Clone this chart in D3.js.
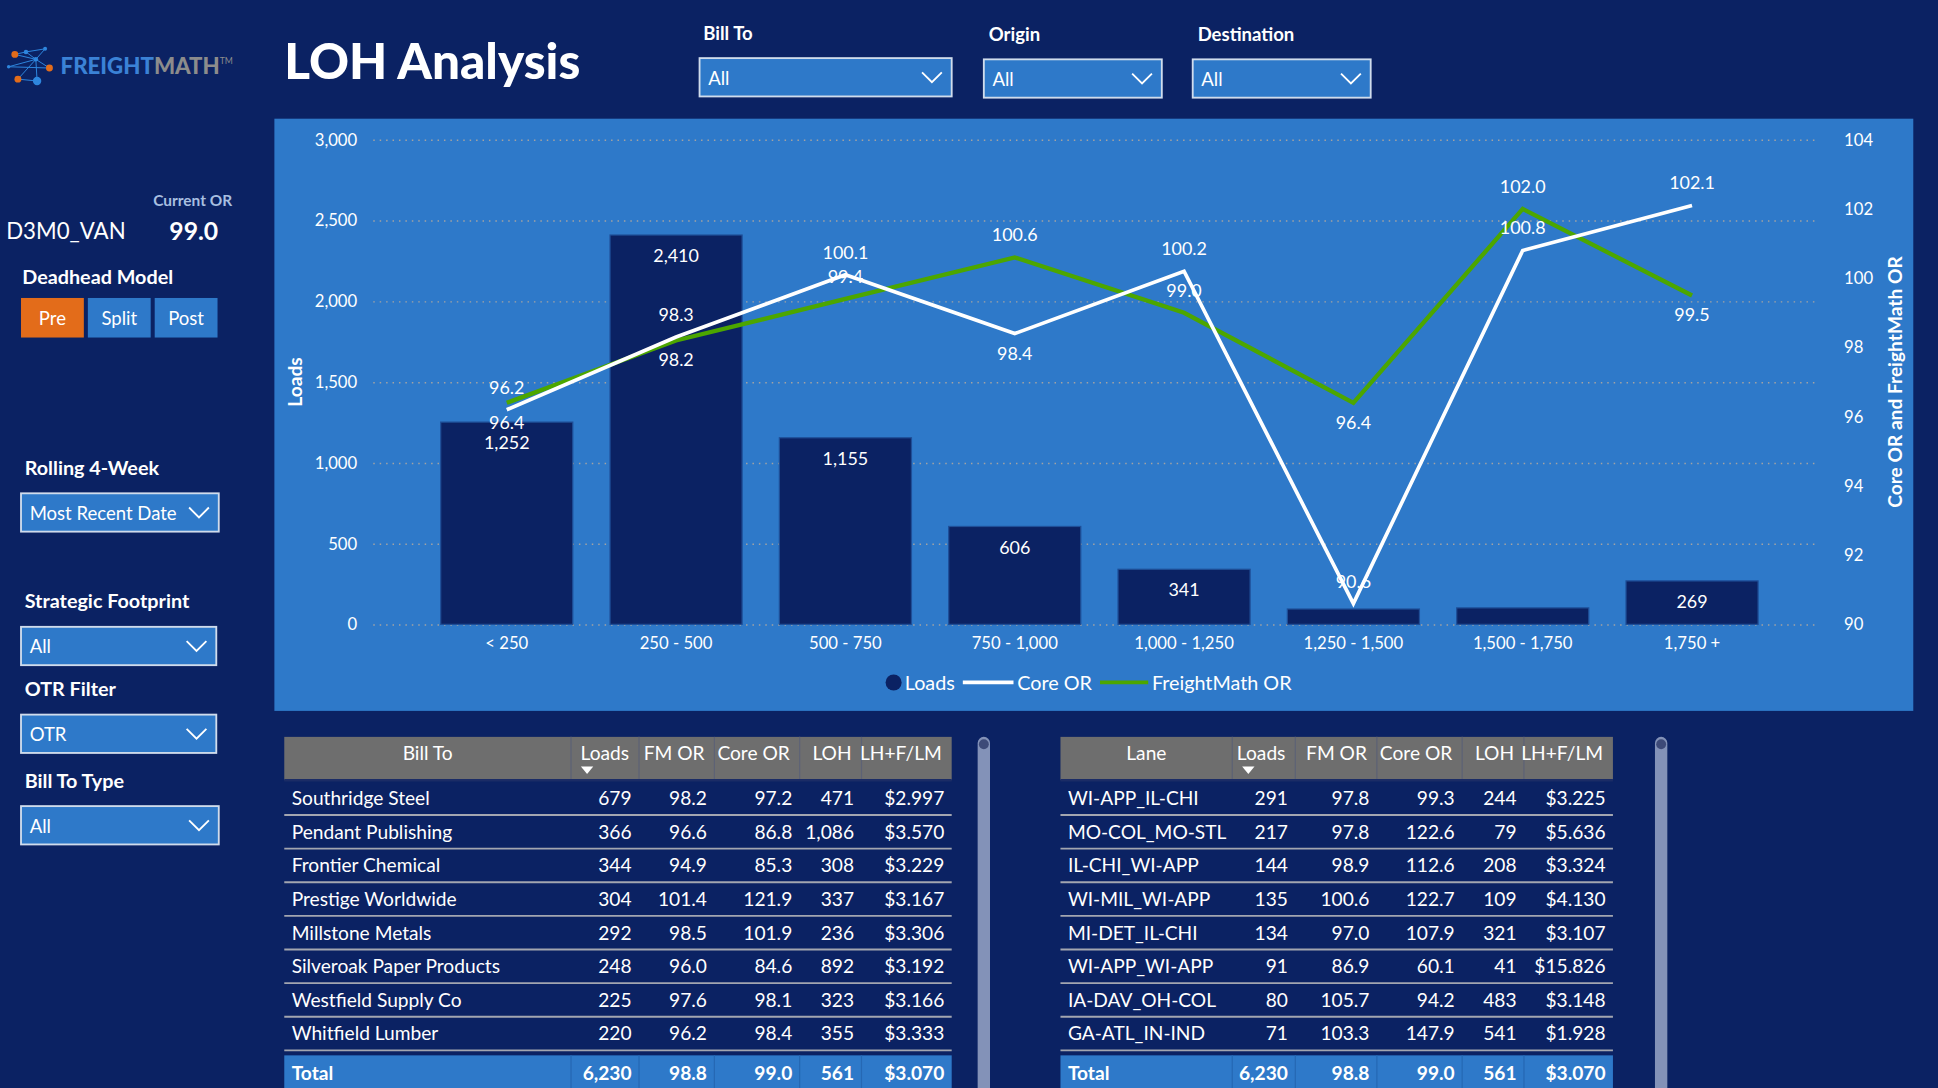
<!DOCTYPE html>
<html>
<head>
<meta charset="utf-8">
<script src="https://cdn.jsdelivr.net/npm/d3@7"></script>
<style>
  html, body { margin: 0; padding: 0; background: #0b2263; overflow: hidden; }
  svg { display: block; font-family: Lato, "Open Sans", sans-serif; }
</style>
</head>
<body>
<div id="page"></div>
<script>
// chart data
const categories = ["< 250", "250 - 500", "500 - 750", "750 - 1,000", "1,000 - 1,250", "1,250 - 1,500", "1,500 - 1,750", "1,750 +"];
const loads = [1252, 2410, 1155, 606, 341, 95, 102, 269];
const coreOR = [96.2, 98.3, 100.1, 98.4, 100.2, 90.6, 100.8, 102.1];
const fmOR = [96.4, 98.2, 99.4, 100.6, 99.0, 96.4, 102.0, 99.5];
const loadTicks = [0, 500, 1000, 1500, 2000, 2500, 3000];
const orTicks = [90, 92, 94, 96, 98, 100, 102, 104];
// where power bi put each line label
const coreLabelSide = ["up", "up", "up", "down", "up", "up", "up", "up"];
const fmLabelSide = ["down", "down", "up", "up", "up", "down", "up", "down"];

// tables
const tableCols = ["Loads", "FM OR", "Core OR", "LOH", "LH+F/LM"];
const billTo = ["Southridge Steel", "Pendant Publishing", "Frontier Chemical", "Prestige Worldwide", "Millstone Metals", "Silveroak Paper Products", "Westfield Supply Co", "Whitfield Lumber"];
const billToRows = [
  ["679", "98.2", "97.2", "471", "$2.997"],
  ["366", "96.6", "86.8", "1,086", "$3.570"],
  ["344", "94.9", "85.3", "308", "$3.229"],
  ["304", "101.4", "121.9", "337", "$3.167"],
  ["292", "98.5", "101.9", "236", "$3.306"],
  ["248", "96.0", "84.6", "892", "$3.192"],
  ["225", "97.6", "98.1", "323", "$3.166"],
  ["220", "96.2", "98.4", "355", "$3.333"]
];
const lanes = ["WI-APP_IL-CHI", "MO-COL_MO-STL", "IL-CHI_WI-APP", "WI-MIL_WI-APP", "MI-DET_IL-CHI", "WI-APP_WI-APP", "IA-DAV_OH-COL", "GA-ATL_IN-IND"];
const laneRows = [
  ["291", "97.8", "99.3", "244", "$3.225"],
  ["217", "97.8", "122.6", "79", "$5.636"],
  ["144", "98.9", "112.6", "208", "$3.324"],
  ["135", "100.6", "122.7", "109", "$4.130"],
  ["134", "97.0", "107.9", "321", "$3.107"],
  ["91", "86.9", "60.1", "41", "$15.826"],
  ["80", "105.7", "94.2", "483", "$3.148"],
  ["71", "103.3", "147.9", "541", "$1.928"]
];
const totalRow = ["6,230", "98.8", "99.0", "561", "$3.070"];

const W = 1568, H = 880;
const navy = "#0b2263", mid = "#2e79c9", green = "#4ca600";

const svg = d3.select("#page").append("svg")
  .attr("width", 1938).attr("height", 1088)
  .attr("viewBox", `0 0 ${W} ${H}`)
  .attr("preserveAspectRatio", "none");

svg.append("rect").attr("width", W).attr("height", H).attr("fill", navy);

// ---------- logo ----------
const logo = svg.append("g");
const dots = [[12, 44, "#e36c1a", 2.8], [40, 55, "#e36c1a", 2.8], [14.5, 64, "#e36c1a", 2.8], [30, 65.5, "#2e86de", 3.4],
  [21, 42, "#2e86de", 1.8], [36.5, 39.5, "#2e86de", 1.6], [29, 48, "#2e86de", 1.8], [7, 54, "#2e86de", 1.4]];
const links = [[0, 4], [4, 5], [5, 6], [6, 1], [4, 6], [7, 6], [6, 2], [2, 3], [6, 3], [0, 6], [7, 1]];
logo.selectAll("line").data(links).enter().append("line")
  .attr("x1", d => dots[d[0]][0]).attr("y1", d => dots[d[0]][1])
  .attr("x2", d => dots[d[1]][0]).attr("y2", d => dots[d[1]][1])
  .attr("stroke", "#2e86de").attr("stroke-width", 0.8);
logo.selectAll("circle").data(dots).enter().append("circle")
  .attr("cx", d => d[0]).attr("cy", d => d[1]).attr("r", d => d[3]).attr("fill", d => d[2]);
const lt = logo.append("text").attr("x", 49).attr("y", 60).attr("font-size", 18).attr("font-weight", 900);
lt.append("tspan").attr("fill", "#3b82d6").text("FREIGHT");
lt.append("tspan").attr("fill", "#8c8c8c").text("MATH");
lt.append("tspan").attr("fill", "#8c8c8c").attr("font-size", 7).attr("dy", -8).attr("font-weight", 400).text("TM");

svg.append("text").attr("x", 230).attr("y", 64).attr("fill", "#fff")
  .attr("font-size", 40).attr("font-weight", 900).text("LOH Analysis");

// ---------- slicers ----------
function label(x, y, t, size) {
  svg.append("text").attr("x", x).attr("y", y).attr("fill", "#fff")
    .attr("font-size", size || 16).attr("font-weight", 700).text(t);
}
function dropdown(x, y, w, h, t) {
  const g = svg.append("g").attr("transform", `translate(${x},${y})`);
  g.append("rect").attr("width", w).attr("height", h).attr("fill", mid)
    .attr("stroke", "#d0dcec").attr("stroke-width", 1.5);
  g.append("text").attr("x", 7).attr("y", h / 2 + 6).attr("fill", "#fff")
    .attr("font-size", 15).text(t);
  g.append("polyline").attr("points", `${w - 24},${h / 2 - 4} ${w - 16},${h / 2 + 4} ${w - 8},${h / 2 - 4}`)
    .attr("fill", "none").attr("stroke", "#fff").attr("stroke-width", 1.5);
}

label(569, 32, "Bill To", 15);
dropdown(566, 47, 204, 31, "All");
label(800, 33, "Origin", 15);
dropdown(796, 48, 144, 31, "All");
label(969, 33, "Destination", 15);
dropdown(965, 48, 144, 31, "All");

// ---------- left panel ----------
svg.append("text").attr("x", 124).attr("y", 167).attr("fill", "#a8bfe0")
  .attr("font-size", 12.5).attr("font-weight", 700).text("Current OR");
svg.append("text").attr("x", 5).attr("y", 193).attr("fill", "#fff")
  .attr("font-size", 18).text("D3M0_VAN");
svg.append("text").attr("x", 137).attr("y", 194).attr("fill", "#fff")
  .attr("font-size", 20).attr("font-weight", 700).text("99.0");
label(18, 230, "Deadhead Model");

const models = ["Pre", "Split", "Post"];
const bx = d3.scaleBand().domain(models).range([17, 176]).paddingInner(0.06);
const btn = svg.selectAll("g.btn").data(models).enter().append("g").attr("class", "btn");
btn.append("rect").attr("x", d => bx(d)).attr("y", 241).attr("width", bx.bandwidth()).attr("height", 32)
  .attr("fill", (d, i) => i === 0 ? "#e36c1a" : mid);
btn.append("text").attr("x", d => bx(d) + bx.bandwidth() / 2).attr("y", 263).attr("text-anchor", "middle")
  .attr("fill", "#fff").attr("font-size", 15).text(d => d);

label(20, 384, "Rolling 4-Week");
dropdown(17, 399, 160, 31, "Most Recent Date");
label(20, 492, "Strategic Footprint");
dropdown(17, 507, 158, 31, "All");
label(20, 563, "OTR Filter");
dropdown(17, 578, 158, 31, "OTR");
label(20, 637, "Bill To Type");
dropdown(17, 652, 160, 31, "All");

// ---------- combo chart ----------
svg.append("rect").attr("x", 222).attr("y", 96).attr("width", 1326).attr("height", 479).attr("fill", mid);

const x = d3.scaleBand().domain(categories).range([341.5, 1437.5]).paddingInner(0.22).paddingOuter(0.11);
const yL = d3.scaleLinear().domain([0, 3000]).range([505, 113]);
const yR = d3.scaleLinear().domain([90, 104]).range([505, 113]);

// dotted grid
svg.append("g").attr("transform", "translate(302,0)")
  .call(d3.axisLeft(yL).tickValues(loadTicks).tickSize(-1168).tickFormat(""))
  .call(g => g.select(".domain").remove())
  .call(g => g.selectAll("line").attr("stroke", "#a3a3a3").attr("stroke-width", 1.2)
    .attr("stroke-dasharray", "1.2,4"));

const axL = svg.append("g").attr("transform", "translate(289,0)")
  .call(d3.axisLeft(yL).tickValues(loadTicks).tickSize(0).tickPadding(0).tickFormat(d3.format(",")));
const axR = svg.append("g").attr("transform", "translate(1492,0)")
  .call(d3.axisRight(yR).tickValues(orTicks).tickSize(0).tickPadding(0));
const axB = svg.append("g").attr("transform", "translate(0,505)")
  .call(d3.axisBottom(x).tickSize(0).tickPadding(10));
[axL, axR, axB].forEach(a => {
  a.select(".domain").remove();
  a.selectAll("text").attr("fill", "#fff").attr("font-size", 13.5).attr("font-family", "Lato, sans-serif");
});

svg.append("text").attr("transform", "translate(244,309) rotate(-90)").attr("text-anchor", "middle")
  .attr("fill", "#fff").attr("font-size", 15.5).attr("font-weight", 700).text("Loads");
svg.append("text").attr("transform", "translate(1539,309) rotate(-90)").attr("text-anchor", "middle")
  .attr("fill", "#fff").attr("font-size", 15.5).attr("font-weight", 700).text("Core OR and FreightMath OR");

// bars
const barData = categories.map((c, i) => ({ cat: c, v: loads[i] }));
svg.selectAll("rect.bar").data(barData).enter().append("rect").attr("class", "bar")
  .attr("x", d => x(d.cat)).attr("width", x.bandwidth())
  .attr("y", d => yL(d.v)).attr("height", d => yL(0) - yL(d.v))
  .attr("fill", navy).attr("stroke", "#1f4f98").attr("stroke-width", 1);

// the two short bars get no label in the original
svg.selectAll("text.barlab").data(barData.filter(d => d.v >= 200)).enter().append("text").attr("class", "barlab")
  .attr("x", d => x(d.cat) + x.bandwidth() / 2)
  .attr("y", d => yL(d.v) + 22).attr("text-anchor", "middle")
  .attr("fill", "#fff").attr("font-size", 14.5).text(d => d3.format(",")(d.v));

// lines
const cx = i => x(categories[i]) + x.bandwidth() / 2;
const line = d3.line().x((d, i) => cx(i)).y(d => yR(d));
svg.append("path").datum(fmOR).attr("d", line).attr("fill", "none")
  .attr("stroke", green).attr("stroke-width", 3.5).attr("stroke-linejoin", "miter");
svg.append("path").datum(coreOR).attr("d", line).attr("fill", "none")
  .attr("stroke", "#fff").attr("stroke-width", 3).attr("stroke-linejoin", "miter");

function lineLabels(vals, sides) {
  svg.append("g").selectAll("text").data(vals).enter().append("text")
    .attr("x", (d, i) => cx(i))
    .attr("y", (d, i) => yR(d) + (sides[i] === "up" ? -13 : 21))
    .attr("text-anchor", "middle").attr("fill", "#fff").attr("font-size", 14.5)
    .text(d => d.toFixed(1));
}
lineLabels(coreOR, coreLabelSide);
lineLabels(fmOR, fmLabelSide);

// legend
const lg = svg.append("g").attr("transform", "translate(0,552)");
lg.append("circle").attr("cx", 723).attr("cy", 0).attr("r", 6.5).attr("fill", navy);
lg.append("text").attr("x", 732).attr("y", 6).attr("fill", "#fff").attr("font-size", 16).text("Loads");
lg.append("line").attr("x1", 779).attr("x2", 820).attr("stroke", "#fff").attr("stroke-width", 3);
lg.append("text").attr("x", 823).attr("y", 6).attr("fill", "#fff").attr("font-size", 16).text("Core OR");
lg.append("line").attr("x1", 890).attr("x2", 929).attr("stroke", green).attr("stroke-width", 3);
lg.append("text").attr("x", 932).attr("y", 6).attr("fill", "#fff").attr("font-size", 16).text("FreightMath OR");

// ---------- tables ----------
function table(x0, edges, firstHead, names, rows, scrollX) {
  const g = svg.append("g");
  const headY = 596, headH = 35, rowH = 27.2, bodyY = 632;
  const right = edges[edges.length - 1];
  const y = d3.scaleBand().domain(d3.range(rows.length)).range([bodyY, bodyY + rowH * rows.length]);

  g.append("rect").attr("x", x0).attr("y", headY).attr("width", right - x0).attr("height", headH).attr("fill", "#6e6e6e");
  g.selectAll("line.hsep").data(edges.slice(0, -1)).enter().append("line")
    .attr("x1", d => d).attr("x2", d => d).attr("y1", headY).attr("y2", headY + headH)
    .attr("stroke", "#5d6275").attr("stroke-width", 1);
  g.append("line").attr("x1", x0).attr("x2", right).attr("y1", headY + headH).attr("y2", headY + headH)
    .attr("stroke", "#1b2c66").attr("stroke-width", 2);
  g.append("text").attr("x", (x0 + edges[0]) / 2).attr("y", headY + 19).attr("text-anchor", "middle")
    .attr("fill", "#fff").attr("font-size", 15.5).text(firstHead);
  g.selectAll("text.hd").data(tableCols).enter().append("text")
    .attr("x", (d, i) => edges[i + 1] - 8).attr("y", headY + 19).attr("text-anchor", "end")
    .attr("fill", "#fff").attr("font-size", 15.5).text(d => d);
  g.append("path").attr("d", `M${edges[0] + 8},${headY + 24} h10 l-5,6 z`).attr("fill", "#fff");

  const r = g.selectAll("g.row").data(rows).enter().append("g")
    .attr("transform", (d, i) => `translate(0,${y(i)})`);
  r.append("line").attr("x1", x0).attr("x2", right).attr("y1", rowH).attr("y2", rowH)
    .attr("stroke", "#a3a6b0").attr("stroke-width", 1.5);
  r.append("text").attr("x", x0 + 6).attr("y", rowH / 2 + 5.5).attr("fill", "#fff").attr("font-size", 15.5)
    .text((d, i) => names[i]);
  r.selectAll("text.v").data(d => d).enter().append("text")
    .attr("x", (d, i) => edges[i + 1] - 6).attr("y", rowH / 2 + 5.5).attr("text-anchor", "end")
    .attr("fill", "#fff").attr("font-size", 15.5).text(d => d);

  const ty = bodyY + rowH * rows.length + 4;
  g.append("rect").attr("x", x0).attr("y", ty).attr("width", right - x0).attr("height", H - ty).attr("fill", mid);
  g.selectAll("line.tsep").data(edges.slice(0, -1)).enter().append("line")
    .attr("x1", d => d).attr("x2", d => d).attr("y1", ty).attr("y2", H)
    .attr("stroke", "#2568b4").attr("stroke-width", 1);
  g.append("text").attr("x", x0 + 6).attr("y", ty + 20).attr("fill", "#fff").attr("font-size", 15.5)
    .attr("font-weight", 700).text("Total");
  g.selectAll("text.tot").data(totalRow).enter().append("text")
    .attr("x", (d, i) => edges[i + 1] - 6).attr("y", ty + 20).attr("text-anchor", "end")
    .attr("fill", "#fff").attr("font-size", 15.5).attr("font-weight", 700).text(d => d);

  g.append("rect").attr("x", scrollX).attr("y", 596).attr("width", 10).attr("height", 300).attr("rx", 5)
    .attr("fill", "#8392b8");
  g.append("circle").attr("cx", scrollX + 5).attr("cy", 602).attr("r", 4).attr("fill", "#3d4a78");
}

table(230, [462, 517, 578, 647, 697, 770], "Bill To", billTo, billToRows, 791);
table(858, [997, 1048, 1114, 1183, 1233, 1305], "Lane", lanes, laneRows, 1339);
</script>
</body>
</html>
